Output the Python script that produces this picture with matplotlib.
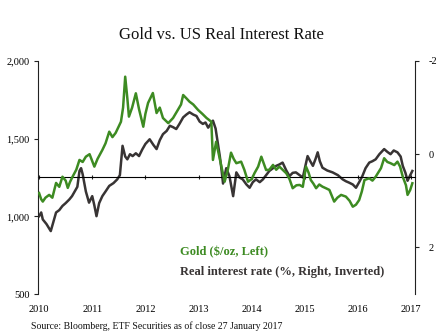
import matplotlib
matplotlib.use("Agg")
import matplotlib.pyplot as plt
import numpy as np

# decimal-year positions and values
gold_t = [0.00, 0.04, 0.07, 0.12, 0.19, 0.25, 0.32, 0.38, 0.44, 0.50, 0.54, 0.58, 0.63, 0.70,
          0.76, 0.82, 0.88, 0.95, 1.04, 1.10, 1.19, 1.25, 1.32, 1.38, 1.44, 1.50, 1.54, 1.58,
          1.62, 1.66, 1.69, 1.75, 1.82, 1.88, 1.96, 2.00, 2.05, 2.14, 2.21, 2.27, 2.33, 2.43,
          2.52, 2.61, 2.67, 2.71, 2.77, 2.83, 2.90, 2.99, 3.07, 3.15, 3.24, 3.27, 3.33, 3.38,
          3.43, 3.49, 3.55, 3.61, 3.66, 3.71, 3.80, 3.86, 3.93, 4.00, 4.05, 4.12, 4.18, 4.27,
          4.33, 4.40, 4.46, 4.52, 4.58, 4.65, 4.71, 4.77, 4.84, 4.90, 4.96, 5.02, 5.07, 5.11,
          5.16, 5.21, 5.27, 5.33, 5.40, 5.46, 5.55, 5.61, 5.68, 5.77, 5.84, 5.90, 5.96, 6.02,
          6.07, 6.12, 6.21, 6.27, 6.33, 6.43, 6.49, 6.55, 6.61, 6.68, 6.74, 6.79, 6.84, 6.90,
          6.93, 6.98, 7.02]
gold_v = [1150, 1110, 1095, 1120, 1138, 1120, 1215, 1190, 1255, 1230, 1183, 1220, 1255, 1300,
          1363, 1350, 1384, 1400, 1320, 1370, 1427, 1470, 1545, 1510, 1537, 1580, 1609, 1700,
          1899, 1760, 1642, 1700, 1792, 1690, 1577, 1660, 1730, 1794, 1665, 1700, 1633, 1600,
          1633, 1685, 1720, 1781, 1760, 1738, 1720, 1685, 1660, 1633, 1609, 1363, 1480, 1400,
          1320, 1223, 1300, 1410, 1370, 1342, 1352, 1300, 1223, 1240, 1277, 1320, 1384, 1298,
          1300, 1331, 1300, 1320, 1300, 1277, 1240, 1181, 1200, 1202, 1190, 1320, 1280, 1234,
          1210, 1181, 1205, 1191, 1180, 1170, 1095, 1120, 1138, 1127, 1100, 1062, 1075, 1105,
          1160, 1234, 1245, 1230, 1255, 1310, 1374, 1350, 1342, 1330, 1352, 1320, 1255, 1200,
          1138, 1170, 1213]

rate_t = [0.00, 0.04, 0.07, 0.14, 0.22, 0.27, 0.32, 0.38, 0.44, 0.50, 0.57, 0.62, 0.66, 0.72,
          0.76, 0.79, 0.82, 0.88, 0.94, 1.00, 1.04, 1.08, 1.13, 1.19, 1.25, 1.32, 1.40, 1.47,
          1.52, 1.57, 1.62, 1.66, 1.71, 1.76, 1.82, 1.88, 1.94, 2.00, 2.08, 2.15, 2.21, 2.27,
          2.33, 2.40, 2.46, 2.52, 2.58, 2.64, 2.71, 2.77, 2.83, 2.90, 2.96, 3.02, 3.08, 3.13,
          3.18, 3.23, 3.27, 3.32, 3.36, 3.40, 3.43, 3.46, 3.52, 3.58, 3.65, 3.71, 3.77, 3.83,
          3.90, 3.96, 4.02, 4.08, 4.15, 4.21, 4.27, 4.33, 4.40, 4.46, 4.52, 4.58, 4.65, 4.71,
          4.77, 4.83, 4.90, 4.96, 5.05, 5.10, 5.15, 5.20, 5.24, 5.28, 5.33, 5.42, 5.52, 5.62,
          5.71, 5.77, 5.83, 5.90, 5.96, 6.02, 6.08, 6.14, 6.21, 6.27, 6.33, 6.40, 6.49, 6.55,
          6.61, 6.67, 6.74, 6.80, 6.84, 6.89, 6.93, 6.98, 7.02]
rate_v = [1.33, 1.25, 1.40, 1.50, 1.65, 1.45, 1.25, 1.20, 1.11, 1.05, 0.97, 0.90, 0.82, 0.70,
          0.36, 0.30, 0.43, 0.80, 1.04, 0.90, 1.10, 1.33, 1.05, 0.90, 0.80, 0.68, 0.62, 0.54,
          0.45, -0.18, 0.05, 0.11, 0.00, 0.04, -0.02, 0.04, -0.10, -0.22, -0.32, -0.20, -0.11, -0.30,
          -0.43, -0.50, -0.61, -0.58, -0.54, -0.65, -0.79, -0.85, -0.90, -0.85, -0.82, -0.70, -0.65, -0.68,
          -0.57, -0.65, -0.72, -0.55, -0.25, 0.05, 0.32, 0.63, 0.30, 0.47, 0.90, 0.39, 0.50, 0.54,
          0.65, 0.72, 0.60, 0.54, 0.60, 0.54, 0.45, 0.36, 0.30, 0.25, 0.22, 0.18, 0.35, 0.47,
          0.40, 0.39, 0.45, 0.50, 0.04, 0.15, 0.25, 0.10, -0.04, 0.15, 0.29, 0.35, 0.39, 0.45,
          0.54, 0.58, 0.61, 0.65, 0.72, 0.60, 0.47, 0.30, 0.18, 0.15, 0.11, 0.00, -0.11, -0.05,
          0.00, -0.08, -0.04, 0.05, 0.25, 0.40, 0.57, 0.45, 0.36]

years = [2010, 2011, 2012, 2013, 2014, 2015, 2016, 2017]
left_ticks = [500, 1000, 1500, 2000]
right_ticks = [-2, 0, 2]

GREEN = "#3d8b22"
DARK = "#383434"
SERIF = ["Liberation Serif", "DejaVu Serif"]

fig = plt.figure(figsize=(4.42, 3.34), dpi=100)
ax = fig.add_axes([38/442, 1-294/334, (415-38)/442, (294-61)/334])
ax2 = ax.twinx()

gx = [2010 + t for t in gold_t]
rx = [2010 + t for t in rate_t]
ax2.plot(rx, rate_v, color=DARK, lw=1.8, zorder=2)
ax.plot(gx, gold_v, color=GREEN, lw=1.8, zorder=3)
ax.set_zorder(ax2.get_zorder() + 1)
ax.patch.set_visible(False)

ax.set_xlim(2010 - 0.02, 2017.07)
ax.set_ylim(500, 2000)
ax2.set_ylim(3, -2)

ax.set_yticks(left_ticks)
ax.set_yticklabels([f"{v:,}" for v in left_ticks], family=SERIF, fontsize=7.5)
ax2.set_yticks(right_ticks)
ax2.set_yticklabels([str(v) for v in right_ticks], family=SERIF, fontsize=7.5)
ax.set_xticks(years)
ax.set_xticklabels([str(y) for y in years], family=SERIF, fontsize=7.5)
ax.tick_params(axis="x", length=0, pad=8)
ax.tick_params(axis="y", length=3, width=0.8, pad=3, color="#222222")
ax2.tick_params(axis="y", length=3, width=0.8, pad=7, color="#222222")

for a in (ax, ax2):
    a.spines["top"].set_visible(False)
    a.spines["bottom"].set_visible(False)
ax.spines["right"].set_visible(False)
ax.spines["left"].set_color("#222222")
ax2.spines["left"].set_visible(False)
ax2.spines["right"].set_color("#222222")

# horizontal category axis crossing the middle
mid = ax.secondary_xaxis(0.5)
mid.set_xticks(years)
mid.set_xticklabels([])
mid.tick_params(length=3, direction="inout", width=0.8, color="#222222")
mid.spines["bottom"].set_color("#222222")
mid.spines["bottom"].set_linewidth(0.9)

fig.text(0.5, 1-35/334, "Gold vs. US Real Interest Rate", ha="center", va="center",
         family=SERIF, fontsize=12, color="#111111")
fig.text(180/442, 1-252/334, "Gold ($/oz, Left)", ha="left", va="center",
         family=SERIF, fontsize=9, fontweight="bold", color=GREEN)
fig.text(180/442, 1-272/334, "Real interest rate (%, Right, Inverted)", ha="left", va="center",
         family=SERIF, fontsize=9, fontweight="bold", color=DARK)
fig.text(31/442, 1-326/334, "Source: Bloomberg, ETF Securities as of close 27 January 2017",
         ha="left", va="center", family=SERIF, fontsize=7, color="#111111")

fig.savefig("out.png", dpi=100)
